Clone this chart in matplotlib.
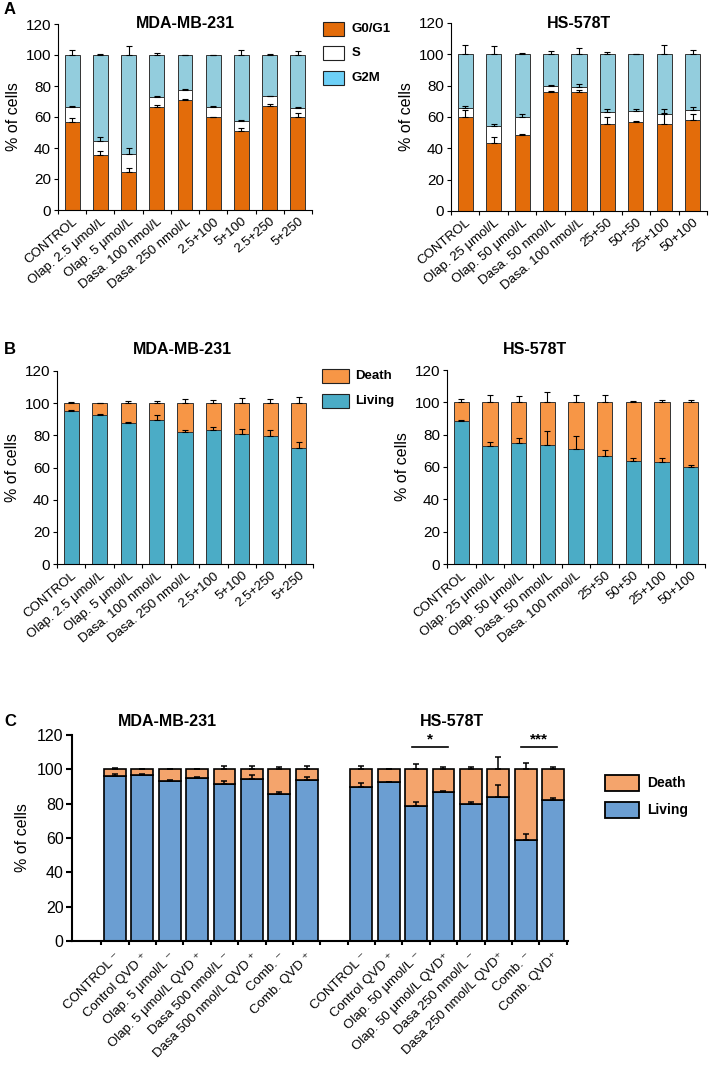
import numpy as np
import matplotlib
matplotlib.use("Agg")
import matplotlib.pyplot as plt

plt.rcParams['font.family'] = ['Liberation Sans', 'DejaVu Sans']

# ---- Panel A: cell cycle ----
labels_a_mda = ["CONTROL", "Olap. 2.5 \u03bcmol/L", "Olap. 5 \u03bcmol/L", "Dasa. 100 nmol/L",
                "Dasa. 250 nmol/L", "2.5+100", "5+100", "2.5+250", "5+250"]
labels_a_hs = ["CONTROL", "Olap. 25 \u03bcmol/L", "Olap. 50 \u03bcmol/L", "Dasa. 50 nmol/L",
               "Dasa. 100 nmol/L", "25+50", "50+50", "25+100", "50+100"]

g0_mda = [56.6, 35.3, 24.7, 66.5, 71.0, 59.8, 51.2, 66.9, 60.0]
s_mda = [9.6, 9.4, 11.2, 6.6, 6.4, 6.9, 6.4, 6.4, 5.8]
g0_err_mda = [2.5, 3.0, 2.2, 1.0, 0.5, 0.4, 2.0, 1.7, 2.8]
s_err_mda = [1.0, 2.5, 4.0, 0.7, 0.5, 0.4, 0.6, 0.5, 0.5]
g2m_err_mda = [3.0, 0.5, 6.0, 1.5, 0.0, 0.0, 3.0, 0.6, 2.6]

g0_hs = [59.7, 43.5, 48.6, 76.0, 75.8, 55.8, 56.7, 55.8, 58.0]
s_hs = [6.3, 10.9, 11.7, 3.6, 3.2, 7.2, 7.4, 6.4, 6.5]
g0_err_hs = [4.5, 3.8, 0.6, 0.5, 1.7, 4.0, 1.0, 6.5, 3.6]
s_err_hs = [1.0, 1.0, 1.5, 0.7, 2.0, 2.2, 0.9, 2.6, 2.0]
g2m_err_hs = [6.0, 5.3, 1.0, 2.1, 4.2, 1.7, 0.4, 5.7, 2.8]

# ---- Panel B: viability ----
living_b_mda = [95.3, 92.8, 87.8, 89.5, 82.3, 83.5, 81.0, 79.6, 72.4]
living_err_b_mda = [0.6, 0.4, 0.4, 3.0, 1.2, 1.7, 2.7, 3.5, 3.7]
death_err_b_mda = [0.6, 0.4, 1.6, 1.4, 2.5, 1.9, 3.3, 2.7, 3.9]

living_b_hs = [88.5, 73.0, 74.7, 73.4, 71.1, 66.9, 63.8, 63.4, 60.3]
living_err_b_hs = [0.8, 2.7, 3.3, 8.8, 7.8, 3.8, 1.7, 2.1, 1.0]
death_err_b_hs = [1.9, 4.8, 3.8, 6.1, 4.8, 4.8, 1.0, 1.5, 1.3]

# ---- Panel C: QVD ----
labels_c_mda = ["CONTROL \u207b", "Control QVD \u207a", "Olap. 5 \u03bcmol/L \u207b",
                "Olap. 5 \u03bcmol/L QVD \u207a", "Dasa 500 nmol/L \u207b",
                "Dasa 500 nmol/L QVD \u207a", "Comb. \u207b", "Comb. QVD \u207a"]
labels_c_hs = ["CONTROL \u207b", "Control QVD \u207a", "Olap. 50 \u03bcmol/L \u207b",
               "Olap. 50 \u03bcmol/L QVD\u207a", "Dasa 250 nmol/L \u207b",
               "Dasa 250 nmol/L QVD\u207a", "Comb. \u207b", "Comb. QVD\u207a"]
living_c_mda = [95.9, 96.9, 93.0, 95.2, 91.3, 94.6, 85.5, 93.6]
living_err_c_mda = [1.4, 0.3, 1.0, 0.4, 1.7, 1.9, 1.2, 2.0]
death_err_c_mda = [1.0, 0.0, 0.4, 0.4, 1.9, 1.9, 1.5, 1.9]
living_c_hs = [89.7, 92.5, 78.5, 86.7, 79.7, 83.8, 58.8, 82.0]
living_err_c_hs = [2.2, 0.3, 2.5, 0.9, 1.5, 7.1, 3.7, 1.4]
death_err_c_hs = [1.9, 0.0, 2.9, 1.2, 1.5, 7.2, 3.9, 1.5]

# colours
C_G0 = "#e36c0a"
C_S = "#ffffff"
C_G2M = "#93cddd"
C_G2M_LEG = "#6dd0f7"
C_DEATH_B = "#f79646"
C_LIVING_B = "#4bacc6"
C_DEATH_C = "#f4a46c"
C_LIVING_C = "#6b9ed2"

W, H = 709, 1080
fig = plt.figure(figsize=(W / 100, H / 100), dpi=100)


def axes_px(x0, y0, x1, y1):
    """Add axes from pixel box (left, top, right, bottom)."""
    return fig.add_axes([x0 / W, 1 - y1 / H, (x1 - x0) / W, (y1 - y0) / H])


def style_axis(ax, n, labels, lw=0.8, fs=9.5):
    ax.set_ylim(0, 120)
    ax.set_yticks(range(0, 121, 20))
    ax.set_xlim(-0.5, n - 0.5)
    for sp in ["top", "right"]:
        ax.spines[sp].set_visible(False)
    for sp in ["left", "bottom"]:
        ax.spines[sp].set_linewidth(lw)
    ax.set_xticks(np.arange(n))
    ax.set_xticklabels(labels, rotation=40, ha="right", rotation_mode="anchor", fontsize=fs)
    ax.tick_params(axis="x", length=0, pad=4)
    ax.set_xticks(np.arange(n + 1) - 0.5, minor=True)
    ax.tick_params(axis="x", which="minor", length=3, width=lw)
    ax.tick_params(axis="y", labelsize=11, length=3, width=lw, pad=2)
    ax.set_ylabel("% of cells", fontsize=11.5, labelpad=3)


def up_err(ax, x, top, err, lw=0.8, cap=2.0):
    top = np.asarray(top, dtype=float)
    err = np.asarray(err, dtype=float)
    ax.errorbar(x, top, yerr=[np.zeros_like(err), err], fmt="none", ecolor="black",
                elinewidth=lw, capsize=cap, capthick=lw)


def cycle_panel(ax, g0, s, e0, es, eg, labels, title):
    x = np.arange(len(g0))
    g0 = np.asarray(g0)
    s = np.asarray(s)
    g2m = 100 - g0 - s
    kw = dict(width=0.53, edgecolor="#333333", linewidth=0.7)
    ax.bar(x, g0, color=C_G0, **kw)
    ax.bar(x, s, bottom=g0, color=C_S, **kw)
    ax.bar(x, g2m, bottom=g0 + s, color=C_G2M, **kw)
    up_err(ax, x, g0, e0)
    up_err(ax, x, g0 + s, es)
    up_err(ax, x, g0 + s + g2m, eg)
    style_axis(ax, len(g0), labels)
    ax.text(0.5, 1.0, title, transform=ax.transAxes, ha="center", va="center",
            fontsize=11.5, fontweight="bold")


def viab_panel(ax, living, el, ed, labels, title, title_x, c_live, c_dead):
    x = np.arange(len(living))
    living = np.asarray(living)
    kw = dict(width=0.53, edgecolor="#333333", linewidth=0.7)
    ax.bar(x, living, color=c_live, **kw)
    ax.bar(x, 100 - living, bottom=living, color=c_dead, **kw)
    up_err(ax, x, living, el)
    up_err(ax, x, np.full(len(living), 100.0), ed)
    style_axis(ax, len(living), labels)
    fig.text(title_x / W, 1 - 350 / H, title, ha="center", va="center",
             fontsize=11.5, fontweight="bold")


# ---- A ----
ax_a1 = axes_px(58, 24, 312, 210)
cycle_panel(ax_a1, g0_mda, s_mda, g0_err_mda, s_err_mda, g2m_err_mda, labels_a_mda, "MDA-MB-231")
ax_a2 = axes_px(451, 23, 707, 211)
cycle_panel(ax_a2, g0_hs, s_hs, g0_err_hs, s_err_hs, g2m_err_hs, labels_a_hs, "HS-578T")

for lab, col, yy in [("G0/G1", C_G0, 29), ("S", C_S, 53), ("G2M", C_G2M_LEG, 78)]:
    fig.patches.append(plt.Rectangle((323 / W, 1 - (yy + 7) / H), 21 / W, 14 / H,
                                     transform=fig.transFigure, facecolor=col,
                                     edgecolor="#222222", linewidth=0.8))
    fig.text(352 / W, 1 - yy / H, lab, ha="left", va="center", fontsize=9.5, fontweight="bold")

# ---- B ----
ax_b1 = axes_px(57, 371, 313, 564)
viab_panel(ax_b1, living_b_mda, living_err_b_mda, death_err_b_mda, labels_a_mda,
           "MDA-MB-231", 182, C_LIVING_B, C_DEATH_B)
ax_b2 = axes_px(447, 370, 705, 564)
viab_panel(ax_b2, living_b_hs, living_err_b_hs, death_err_b_hs, labels_a_hs,
           "HS-578T", 535, C_LIVING_B, C_DEATH_B)

for lab, col, yy in [("Death", C_DEATH_B, 376), ("Living", C_LIVING_B, 401)]:
    fig.patches.append(plt.Rectangle((322 / W, 1 - (yy + 7) / H), 27 / W, 14 / H,
                                     transform=fig.transFigure, facecolor=col,
                                     edgecolor="#222222", linewidth=0.8))
    fig.text(355 / W, 1 - yy / H, lab, ha="left", va="center", fontsize=9.5, fontweight="bold")

# ---- C ----
ax_c = axes_px(72, 735, 568, 941)
x_mda = np.arange(8)
x_hs = np.arange(8) + 9
xc = np.concatenate([x_mda, x_hs])
living_c = np.array(living_c_mda + living_c_hs)
kw = dict(width=0.8, edgecolor="black", linewidth=1.2)
ax_c.bar(xc, living_c, color=C_LIVING_C, **kw)
ax_c.bar(xc, 100 - living_c, bottom=living_c, color=C_DEATH_C, **kw)
up_err(ax_c, xc, living_c, living_err_c_mda + living_err_c_hs, lw=1.1, cap=2.5)
up_err(ax_c, xc, np.full(len(xc), 100.0), death_err_c_mda + death_err_c_hs, lw=1.1, cap=2.5)

ax_c.set_ylim(0, 120)
ax_c.set_yticks(range(0, 121, 20))
ax_c.set_xlim(-1.57, 16.55)
for sp in ["top", "right"]:
    ax_c.spines[sp].set_visible(False)
for sp in ["left", "bottom"]:
    ax_c.spines[sp].set_linewidth(1.5)
ax_c.set_xticks(xc)
ax_c.set_xticklabels(labels_c_mda + labels_c_hs, rotation=45, ha="right",
                     rotation_mode="anchor", fontsize=9.5)
ax_c.tick_params(axis="x", length=0, pad=7)
ax_c.set_xticks(np.concatenate([np.arange(9) - 0.5, np.arange(9) + 8.5]), minor=True)
ax_c.tick_params(axis="x", which="minor", length=3, width=1.5)
ax_c.tick_params(axis="y", labelsize=11.5, length=4, width=1.5, pad=2)
ax_c.set_ylabel("% of cells", fontsize=11.5, labelpad=5)

# significance bars
for x0, x1, star in [(11, 12, "*"), (15, 16, "***")]:
    ax_c.plot([x0 - 0.15, x1 + 0.15], [113, 113], color="black", lw=1.2, clip_on=False)
    ax_c.text((x0 + x1) / 2, 113.3, star, ha="center", va="bottom", fontsize=11,
              fontweight="bold", clip_on=False)

fig.text(167 / W, 1 - 722 / H, "MDA-MB-231", ha="center", va="center", fontsize=11.5,
         fontweight="bold")
fig.text(452 / W, 1 - 722 / H, "HS-578T", ha="center", va="center", fontsize=11.5,
         fontweight="bold")

for lab, col, yy in [("Death", C_DEATH_C, 783), ("Living", C_LIVING_C, 810)]:
    fig.patches.append(plt.Rectangle((605 / W, 1 - (yy + 8) / H), 34 / W, 16 / H,
                                     transform=fig.transFigure, facecolor=col,
                                     edgecolor="black", linewidth=1.3))
    fig.text(647 / W, 1 - yy / H, lab, ha="left", va="center", fontsize=10, fontweight="bold")

# panel letters
for letter, yy in [("A", 9), ("B", 350), ("C", 722)]:
    fig.text(4 / W, 1 - yy / H, letter, ha="left", va="center", fontsize=12, fontweight="bold")

fig.savefig("out.png", dpi=100)
plt.close(fig)
